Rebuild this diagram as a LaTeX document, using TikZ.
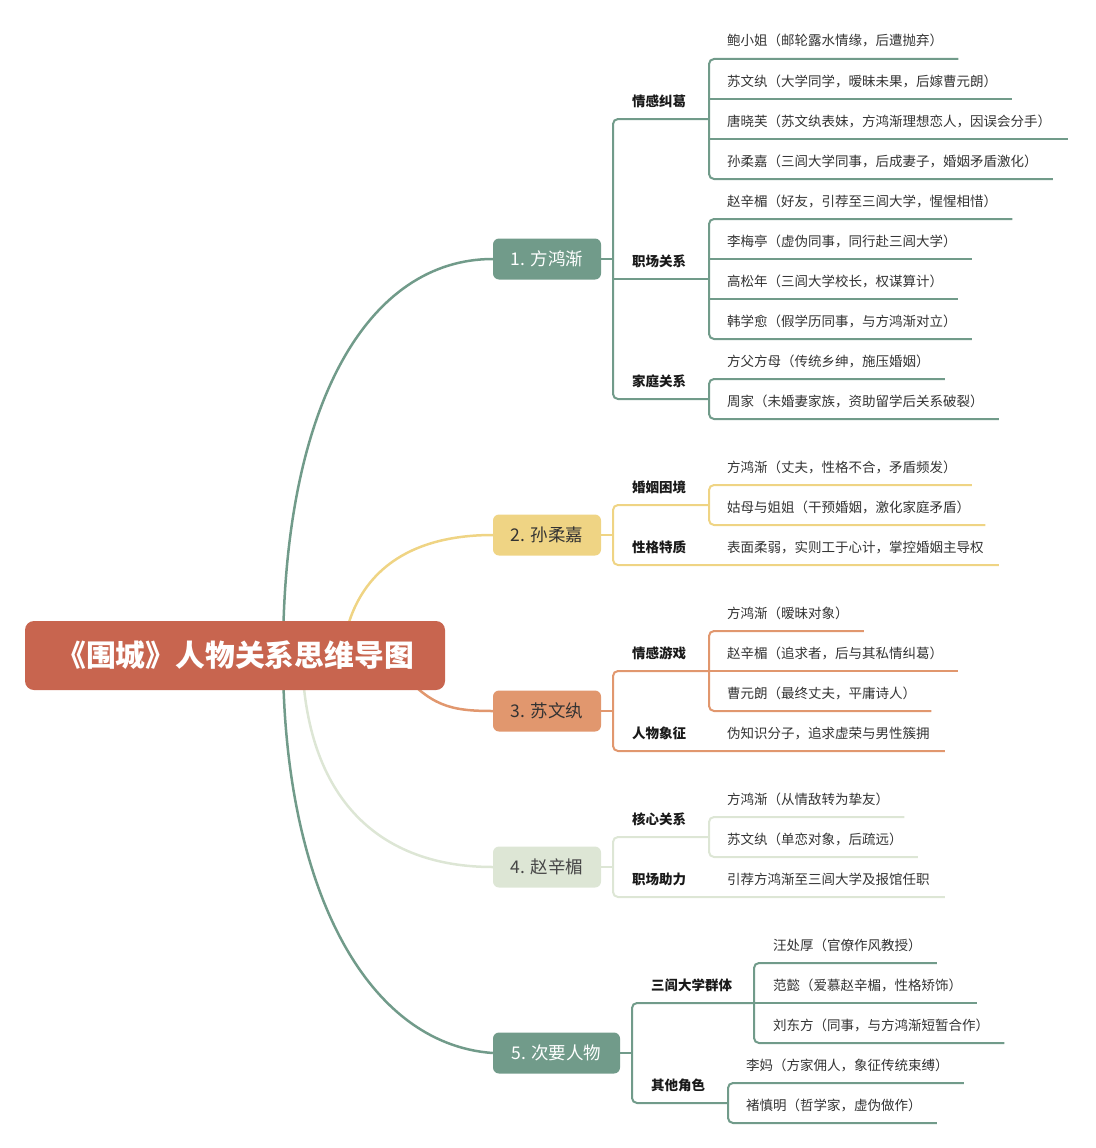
\documentclass[tikz,border=0pt]{standalone}
\usepackage{fontspec}
\setmainfont{Noto Sans CJK SC}
\usetikzlibrary{backgrounds}
\definecolor{cg}{HTML}{719B8A}
\definecolor{cy}{HTML}{EFD484}
\definecolor{co}{HTML}{E1976E}
\definecolor{cl}{HTML}{DDE6D5}
\definecolor{cr}{HTML}{C8654F}
\definecolor{tx}{HTML}{333333}
\begin{document}
\begin{tikzpicture}[x=1pt,y=-1pt,
  root/.style={fill=cr, rounded corners=9pt, minimum width=420pt, minimum height=69pt, text=white, font=\fontsize{29.8}{32}\selectfont\bfseries, inner sep=0pt},
  mainbox/.style={rounded corners=6pt, minimum height=41pt, inner sep=0pt, font=\fontsize{17.5}{20}\selectfont},
  sub/.style={anchor=base west, inner sep=0pt, font=\fontsize{13.5}{16}\selectfont\bfseries, text=black!90},
  leaf/.style={anchor=base west, inner sep=0pt, font=\fontsize{13.5}{16}\selectfont, text=tx},
  ln/.style={line width=2pt, rounded corners=5pt},
  curve/.style={line width=2.5pt},
]
\useasboundingbox (0,0) rectangle (1095,1148);

% root and main nodes
\node[root] (root) at (235,655.5) {《围城》人物关系思维导图};
\node[mainbox, fill=cg, text=white, minimum width=108pt] (m1) at (547,259) {1. 方鸿渐};
\node[mainbox, fill=cy, text=tx, minimum width=108pt] (m2) at (547,535) {2. 孙柔嘉};
\node[mainbox, fill=co, text=tx, minimum width=108pt] (m3) at (547,711) {3. 苏文纨};
\node[mainbox, fill=cl, text=tx!90, minimum width=108pt] (m4) at (547,867) {4. 赵辛楣};
\node[mainbox, fill=cg, text=white, minimum width=127pt] (m5) at (556.5,1053) {5. 次要人物};

\coordinate (r1) at (283,656);
\coordinate (r2) at (342,656);
\coordinate (r3) at (398,668);
\coordinate (r4) at (302,656);
\coordinate (r5) at (283,656);

\begin{scope}[on background layer]
\draw[curve, cg] (r1) .. controls (283,400) and (370,259) .. (m1.west);
\draw[curve, cy] (r2) .. controls (350,580) and (400,535) .. (m2.west);
\draw[curve, co] (r3) .. controls (430,706) and (450,711) .. (m3.west);
\draw[curve, cl] (r4) .. controls (305,800) and (380,867) .. (m4.west);
\draw[curve, cg] (r5) .. controls (283,885) and (365,1044) .. (m5.west);
\end{scope}

% ===== 1. 方鸿渐 =====
\node[sub] (s11) at (632,106) {情感纠葛};
\node[sub] (s12) at (632,266) {职场关系};
\node[sub] (s13) at (632,386) {家庭关系};
\draw[ln, cg] (m1.east) -- (613,259);
\draw[ln, cg] (709,119) -- (613,119) -- (613,399) -- (709,399);
\draw[ln, cg] (613,279) -- (709,279);

\node[leaf] (a1) at (727,46) {鲍小姐（邮轮露水情缘，后遭抛弃）};
\node[leaf] (a2) at (727,86) {苏文纨（大学同学，暧昧未果，后嫁曹元朗）};
\node[leaf] (a3) at (727,126) {唐晓芙（苏文纨表妹，方鸿渐理想恋人，因误会分手）};
\node[leaf] (a4) at (727,166) {孙柔嘉（三闾大学同事，后成妻子，婚姻矛盾激化）};
\draw[ln, cg] (a1.east |- 0,59) ++(15,0) -- (709,59) -- (709,179) -- (a4.east |- 0,179) -- ++(15,0);
\draw[ln, cg] (709,99) -- (a2.east |- 0,99) -- ++(15,0);
\draw[ln, cg] (709,139) -- (a3.east |- 0,139) -- ++(17,0);

\node[leaf] (a5) at (727,206) {赵辛楣（好友，引荐至三闾大学，惺惺相惜）};
\node[leaf] (a6) at (727,246) {李梅亭（虚伪同事，同行赴三闾大学）};
\node[leaf] (a7) at (727,286) {高松年（三闾大学校长，权谋算计）};
\node[leaf] (a8) at (727,326) {韩学愈（假学历同事，与方鸿渐对立）};
\draw[ln, cg] (a5.east |- 0,219) ++(15,0) -- (709,219) -- (709,339) -- (a8.east |- 0,339) -- ++(15,0);
\draw[ln, cg] (709,259) -- (a6.east |- 0,259) -- ++(15,0);
\draw[ln, cg] (709,299) -- (a7.east |- 0,299) -- ++(15,0);

\node[leaf] (a9) at (727,366) {方父方母（传统乡绅，施压婚姻）};
\node[leaf] (a10) at (727,406) {周家（未婚妻家族，资助留学后关系破裂）};
\draw[ln, cg] (a9.east |- 0,379) ++(15,0) -- (709,379) -- (709,419) -- (a10.east |- 0,419) -- ++(15,0);

% ===== 2. 孙柔嘉 =====
\node[sub] (s21) at (632,492) {婚姻困境};
\node[sub] (s22) at (632,552) {性格特质};
\node[leaf] (b1) at (727,472) {方鸿渐（丈夫，性格不合，矛盾频发）};
\node[leaf] (b2) at (727,512) {姑母与姐姐（干预婚姻，激化家庭矛盾）};
\node[leaf] (b3) at (727,552) {表面柔弱，实则工于心计，掌控婚姻主导权};
\draw[ln, cy] (m2.east) -- (613,535);
\draw[ln, cy] (709,505) -- (613,505) -- (613,565) -- (b3.east |- 0,565) -- ++(15,0);
\draw[ln, cy] (b1.east |- 0,485) ++(15,0) -- (709,485) -- (709,525) -- (b2.east |- 0,525) -- ++(15,0);

% ===== 3. 苏文纨 =====
\node[sub] (s31) at (632,658) {情感游戏};
\node[sub] (s32) at (632,738) {人物象征};
\node[leaf] (c1) at (727,618) {方鸿渐（暧昧对象）};
\node[leaf] (c2) at (727,658) {赵辛楣（追求者，后与其私情纠葛）};
\node[leaf] (c3) at (727,698) {曹元朗（最终丈夫，平庸诗人）};
\node[leaf] (c4) at (727,738) {伪知识分子，追求虚荣与男性簇拥};
\draw[ln, co] (m3.east) -- (613,711);
\draw[ln, co] (709,671) -- (613,671) -- (613,751) -- (c4.east |- 0,751) -- ++(15,0);
\draw[ln, co] (c1.east |- 0,631) ++(15,0) -- (709,631) -- (709,711) -- (c3.east |- 0,711) -- ++(15,0);
\draw[ln, co] (709,671) -- (c2.east |- 0,671) -- ++(15,0);

% ===== 4. 赵辛楣 =====
\node[sub] (s41) at (632,824) {核心关系};
\node[sub] (s42) at (632,884) {职场助力};
\node[leaf] (d1) at (727,804) {方鸿渐（从情敌转为挚友）};
\node[leaf] (d2) at (727,844) {苏文纨（单恋对象，后疏远）};
\node[leaf] (d3) at (727,884) {引荐方鸿渐至三闾大学及报馆任职};
\draw[ln, cl] (m4.east) -- (613,867);
\draw[ln, cl] (709,837) -- (613,837) -- (613,897) -- (d3.east |- 0,897) -- ++(15,0);
\draw[ln, cl] (d1.east |- 0,817) ++(15,0) -- (709,817) -- (709,857) -- (d2.east |- 0,857) -- ++(15,0);

% ===== 5. 次要人物 =====
\node[sub] (s51) at (651,990) {三闾大学群体};
\node[sub] (s52) at (651,1090) {其他角色};
\node[leaf] (e1) at (773,950) {汪处厚（官僚作风教授）};
\node[leaf] (e2) at (773,990) {范懿（爱慕赵辛楣，性格矫饰）};
\node[leaf] (e3) at (773,1030) {刘东方（同事，与方鸿渐短暂合作）};
\node[leaf] (e4) at (746,1070) {李妈（方家佣人，象征传统束缚）};
\node[leaf] (e5) at (746,1110) {褚慎明（哲学家，虚伪做作）};
\draw[ln, cg] (m5.east) -- (632,1053);
\draw[ln, cg] (754,1003) -- (632,1003) -- (632,1103) -- (728,1103);
\draw[ln, cg] (e1.east |- 0,963) ++(15,0) -- (754,963) -- (754,1043) -- (e3.east |- 0,1043) -- ++(15,0);
\draw[ln, cg] (754,1003) -- (e2.east |- 0,1003) -- ++(15,0);
\draw[ln, cg] (e4.east |- 0,1083) ++(15,0) -- (728,1083) -- (728,1123) -- (e5.east |- 0,1123) -- ++(15,0);
\end{tikzpicture}
\end{document}
